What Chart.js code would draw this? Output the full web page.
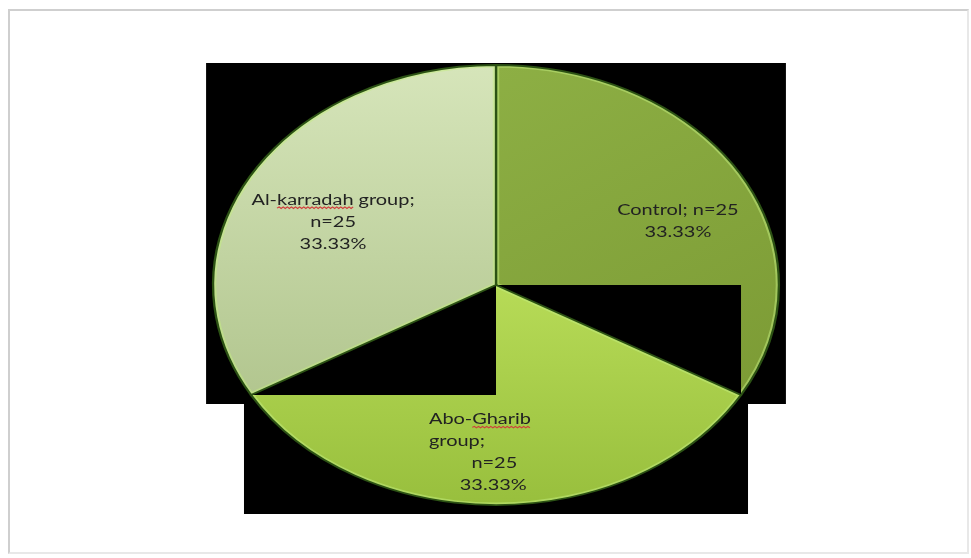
<!DOCTYPE html>
<html>
<head>
<meta charset="utf-8">
<title>Study groups</title>
<script src="https://cdn.jsdelivr.net/npm/chart.js@4.4.1/dist/chart.umd.min.js"></script>
<style>
    html, body { margin: 0; padding: 0; background: #fff; }
    #box { position: relative; width: 971px; height: 558px; overflow: hidden; }
    #frame {
        position: absolute; left: 8px; top: 9px; width: 961px; height: 545px;
        border-top: 2px solid #cfcfcf; border-left: 2px solid #cfcfcf;
        border-right: 2px solid #e8e8e8; border-bottom: 2px solid #e8e8e8;
        box-sizing: border-box;
    }
    #pie { position: absolute; left: 0; top: 0; }
</style>
</head>
<body>
<div id="box">
    <div id="frame"></div>
    <canvas id="pie" width="971" height="558"></canvas>
</div>
<script>
// Group sizes (clockwise from 12 o'clock)
const groups = ['Control', 'Abo-Gharib group', 'Al-karradah group'];
const counts = [25, 25, 25];

const total = counts.reduce((a, b) => a + b, 0);
const percents = counts.map(c => (c / total * 100).toFixed(2) + '%');

// The figure is stretched sideways, so the pie is drawn as an ellipse
const STRETCH_X = 1.286;
const LINE_GAP = 22;

// fill gradients: [from, to]
const sliceFills = [
    ['#8daf44', '#7c9b35'],
    ['#b7db57', '#98bf3d'],
    ['#d6e5ba', '#b2c68f']
];

// where each data label sits, as a fraction of the radius from the centre
const labelSpots = [
    { fx: 0.643, fy: -0.293, align: 'center', wrap: 'joined', indents: [0, 0] },
    { fx: -0.237, fy: 0.761, align: 'left', wrap: 'words', indents: [0, 0, 33, 24] },
    { fx: -0.576, fy: -0.286, align: 'center', wrap: 'name', indents: [0, 0, 0] }
];
// words that carry the red spell-check squiggle
const squiggleWords = ['', 'Gharib', 'karradah'];

function labelLines(i) {
    const name = groups[i] + ';';
    const n = 'n=' + counts[i];
    const wrap = labelSpots[i].wrap;
    if (wrap === 'joined') return [name + ' ' + n, percents[i]];
    if (wrap === 'words') return name.split(' ').concat([n, percents[i]]);
    return [name, n, percents[i]];
}

function sliceFill(context) {
    const chart = context.chart;
    const area = chart.chartArea;
    const i = context.dataIndex;
    if (!area) return sliceFills[i][0];
    const cx = (area.left + area.right) / 2;
    const cy = (area.top + area.bottom) / 2;
    const r = Math.min(area.width, area.height) / 2;
    let g;
    if (i === 0) g = chart.ctx.createLinearGradient(cx, cy - r, cx + r, cy + r * 0.5);
    else if (i === 1) g = chart.ctx.createLinearGradient(cx, cy, cx, cy + r);
    else g = chart.ctx.createLinearGradient(cx, cy - r, cx, cy + r * 0.5);
    g.addColorStop(0, sliceFills[i][0]);
    g.addColorStop(1, sliceFills[i][1]);
    return g;
}

// bounding box of one slice (centre, both ends and any quarter points)
function sliceBounds(arc) {
    const r = arc.outerRadius;
    const pts = [[arc.x, arc.y]];
    const a0 = arc.startAngle, a1 = arc.endAngle;
    pts.push([arc.x + Math.cos(a0) * r, arc.y + Math.sin(a0) * r]);
    pts.push([arc.x + Math.cos(a1) * r, arc.y + Math.sin(a1) * r]);
    for (let k = Math.ceil(a0 / (Math.PI / 2) - 1e-9); k * Math.PI / 2 <= a1 + 1e-9; k++) {
        const a = k * Math.PI / 2;
        pts.push([arc.x + Math.cos(a) * r, arc.y + Math.sin(a) * r]);
    }
    const xs = pts.map(p => p[0]), ys = pts.map(p => p[1]);
    return {
        left: Math.min(...xs), right: Math.max(...xs),
        top: Math.min(...ys), bottom: Math.max(...ys)
    };
}

function slicePath(ctx, arc) {
    ctx.beginPath();
    ctx.moveTo(arc.x, arc.y);
    ctx.arc(arc.x, arc.y, arc.outerRadius, arc.startAngle, arc.endAngle);
    ctx.closePath();
}

function squiggle(ctx, x0, x1, y) {
    ctx.save();
    ctx.strokeStyle = '#d23c3c';
    ctx.lineWidth = 1;
    ctx.beginPath();
    let up = true;
    ctx.moveTo(x0, y);
    for (let x = x0 + 1.6; x <= x1; x += 1.6) {
        ctx.lineTo(x, up ? y - 1.1 : y + 0.4);
        up = !up;
    }
    ctx.stroke();
    ctx.restore();
}

// Draws the slices with their black boxes, stretched sideways, then the labels
const stretchedPie = {
    id: 'stretchedPie',
    beforeDatasetsDraw(chart) {
        const ctx = chart.ctx;
        const arcs = chart.getDatasetMeta(0).data;
        const cx = arcs[0].x, cy = arcs[0].y;

        ctx.save();
        ctx.translate(cx, cy);
        ctx.scale(STRETCH_X, 1);
        ctx.translate(-cx, -cy);

        // black backing, a little larger than the slices
        const mx = 7 / STRETCH_X;
        ctx.fillStyle = '#000';
        arcs.forEach(arc => {
            const b = sliceBounds(arc);
            ctx.fillRect(b.left - mx, b.top - 2, b.right - b.left + 2 * mx, b.bottom - b.top + 11);
        });

        arcs.forEach(arc => {
            const b = sliceBounds(arc);
            ctx.fillStyle = '#000';
            ctx.fillRect(b.left, b.top, b.right - b.left, b.bottom - b.top);
            arc.draw(ctx);

            // light inner rim
            ctx.save();
            slicePath(ctx, arc);
            ctx.clip();
            ctx.lineWidth = 5;
            ctx.strokeStyle = 'rgba(196, 238, 128, 0.5)';
            ctx.stroke();
            ctx.restore();

            // dark edge
            slicePath(ctx, arc);
            ctx.lineWidth = 1.8;
            ctx.strokeStyle = '#2c5214';
            ctx.stroke();
        });

        // data labels
        ctx.font = '15.5px Lato';
        ctx.fillStyle = '#222';
        ctx.textBaseline = 'middle';
        arcs.forEach((arc, i) => {
            const spot = labelSpots[i];
            const r = arc.outerRadius;
            const lines = labelLines(i);
            const bx = arc.x + spot.fx * r;
            const by = arc.y + spot.fy * r;
            lines.forEach((line, j) => {
                const y = by + (j - (lines.length - 1) / 2) * LINE_GAP;
                const w = ctx.measureText(line).width;
                const left = spot.align === 'center' ? bx - w / 2 : bx + spot.indents[j];
                ctx.textAlign = 'left';
                ctx.fillText(line, left, y);
                const word = squiggleWords[i];
                const at = word ? line.indexOf(word) : -1;
                if (at >= 0) {
                    const x0 = left + ctx.measureText(line.slice(0, at)).width;
                    const x1 = x0 + ctx.measureText(word).width;
                    squiggle(ctx, x0, x1, y + 8);
                }
            });
        });

        ctx.restore();
        return false;
    }
};

new Chart(document.getElementById('pie'), {
    type: 'pie',
    data: {
        labels: groups,
        datasets: [{
            data: counts,
            backgroundColor: sliceFill,
            borderWidth: 0
        }]
    },
    options: {
        responsive: false,
        animation: false,
        layout: { padding: { top: 65, bottom: 53, left: 276, right: 255 } },
        plugins: {
            legend: { display: false },
            tooltip: { enabled: false }
        }
    },
    plugins: [stretchedPie]
});
</script>
</body>
</html>
